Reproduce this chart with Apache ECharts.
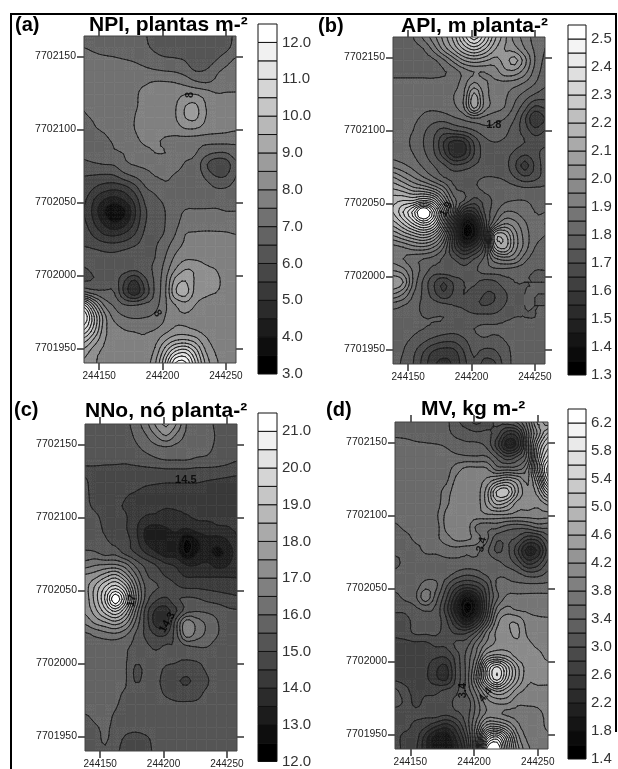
<!DOCTYPE html>
<html><head><meta charset="utf-8"><style>html,body{margin:0;padding:0;background:#fff}#c{width:618px;height:769px}</style>
<script src="https://cdn.jsdelivr.net/npm/echarts@6/dist/echarts.min.js"></script></head><body><div id="c"></div>
<script>
const eastings=[244138,244146,244154,244162,244170,244178,244186,244194,244202,244210,244218,244226,244234,244242,244250,244258];
const northings=[7702164,7702156,7702148,7702140,7702132,7702124,7702116,7702108,7702100,7702092,7702084,7702076,7702068,7702060,7702052,7702044,7702036,7702028,7702020,7702012,7702004,7701996,7701988,7701980,7701972,7701964,7701956,7701948,7701940];
const xTicks=[244150,244200,244250];
const yTicks=[7701950,7702000,7702050,7702100,7702150];
const npiBands=[3,3.5,4,4.5,5,5.5,6,6.5,7,7.5,8,8.5,9,9.5,10,10.5,11,11.5,12,12.5];
const apiBands=[1.3,1.35,1.4,1.45,1.5,1.55,1.6,1.65,1.7,1.75,1.8,1.85,1.9,1.95,2,2.05,2.1,2.15,2.2,2.25,2.3,2.35,2.4,2.45,2.5,2.55];
const nnoBands=[12,12.5,13,13.5,14,14.5,15,15.5,16,16.5,17,17.5,18,18.5,19,19.5,20,20.5,21,21.5];
const mvBands=[1.4,1.6,1.8,2,2.2,2.4,2.6,2.8,3,3.2,3.4,3.6,3.8,4,4.2,4.4,4.6,4.8,5,5.2,5.4,5.6,5.8,6,6.2,6.4];
const npiTicks=[3,4,5,6,7,8,9,10,11,12];
const apiTicks=[1.3,1.4,1.5,1.6,1.7,1.8,1.9,2,2.1,2.2,2.3,2.4,2.5];
const nnoTicks=[12,13,14,15,16,17,18,19,20,21];
const mvTicks=[1.4,1.8,2.2,2.6,3,3.4,3.8,4.2,4.6,5,5.4,5.8,6.2];
const npiValues=[
[6.7,6.7,6.7,6.7,6.7,6.7,6.55,6.3,6.2,6.2,6.2,6.2,6.2,6.2,6.3,6.6],
[7.0,6.9,6.8,6.8,6.75,6.7,6.6,6.4,6.2,6.2,6.1,6.1,6.1,6.1,6.35,6.7],
[7.2,7.15,7.1,7.05,7.0,6.95,6.85,6.7,6.6,6.55,6.45,6.1,6.1,6.45,6.8,7.05],
[7.3,7.3,7.25,7.2,7.2,7.15,7.1,7.05,7.0,6.95,6.8,6.5,6.55,6.9,7.1,7.2],
[7.35,7.35,7.35,7.35,7.35,7.4,7.45,7.55,7.55,7.5,7.35,7.1,7.0,7.1,7.25,7.3],
[7.3,7.35,7.35,7.35,7.4,7.45,7.6,7.7,7.75,7.8,8.0,8.0,7.8,7.55,7.55,7.55],
[7.05,7.25,7.3,7.35,7.4,7.45,7.65,7.8,7.8,7.95,8.5,8.6,8.0,7.8,7.7,7.7],
[6.95,7.05,7.2,7.3,7.35,7.5,7.7,7.8,7.8,7.95,8.5,8.6,8.0,7.8,7.7,7.7],
[6.85,6.97,7.03,7.1,7.25,7.5,7.7,7.75,7.75,7.75,7.95,7.95,7.75,7.65,7.6,7.55],
[6.8,6.9,6.95,7.03,7.1,7.35,7.6,7.6,7.4,7.3,7.25,7.2,7.15,7.15,7.15,7.1],
[6.6,6.7,6.8,6.95,7.02,7.15,7.3,7.5,7.5,7.2,7.1,7.03,6.7,6.5,6.5,6.8],
[6.4,6.45,6.5,6.55,6.9,7.03,7.1,7.15,7.1,7.1,6.97,6.85,6.1,5.6,5.7,6.4],
[6.0,5.95,5.9,5.95,6.3,6.55,6.8,7.0,7.05,6.97,6.9,6.85,6.4,6.0,6.0,6.5],
[5.85,5.5,5.25,5.15,5.3,5.8,6.45,6.65,6.9,6.9,6.9,6.9,6.75,6.5,6.5,6.7],
[5.6,5.0,4.5,4.3,4.6,5.2,6.1,6.4,6.6,6.85,6.9,6.85,6.85,6.85,6.85,6.9],
[5.5,4.8,4.0,3.5,3.9,4.9,5.9,6.3,6.5,6.85,7.02,7.05,7.05,7.05,7.0,7.0],
[5.6,5.0,4.4,4.0,4.3,5.1,5.95,6.3,6.5,6.85,7.2,7.3,7.35,7.35,7.3,7.3],
[5.8,5.4,5.0,4.9,5.1,5.5,6.1,6.35,6.55,7.0,7.5,7.55,7.55,7.55,7.55,7.5],
[6.0,5.9,5.75,5.7,5.8,6.0,6.25,6.45,6.8,7.3,7.6,7.65,7.65,7.7,7.7,7.65],
[6.2,6.25,6.2,6.2,6.35,6.5,6.4,6.5,7.0,7.6,7.9,7.9,7.85,7.85,7.8,7.75],
[5.95,6.1,6.3,6.3,6.2,6.1,6.35,6.6,7.2,8.0,8.5,8.4,8.1,8.0,7.9,7.85],
[6.0,6.05,6.3,6.3,5.5,4.9,5.8,6.6,7.35,8.7,9.0,8.4,8.2,8.05,7.95,7.9],
[7.2,6.8,6.6,6.5,5.4,4.7,5.6,6.6,7.4,8.9,9.2,8.3,8.1,8.0,7.9,7.9],
[10.5,8.8,7.4,6.9,6.5,6.45,6.6,6.8,7.4,8.0,8.3,8.0,7.8,7.7,7.7,7.75],
[12,10.0,8.2,7.3,7.0,6.9,6.95,7.1,7.5,7.9,7.95,7.85,7.7,7.65,7.7,7.7],
[11.2,9.8,8.2,7.7,7.45,7.4,7.4,7.45,7.7,8.05,8.05,7.9,7.75,7.7,7.7,7.7],
[9.8,8.9,8.05,7.8,7.7,7.6,7.55,7.8,8.4,8.9,9.0,8.7,8.1,7.8,7.75,7.7],
[8.8,8.2,7.9,7.8,7.7,7.6,7.65,8.1,9.3,10.5,10.8,9.8,8.5,7.95,7.8,7.7],
[8.4,8.05,7.9,7.8,7.7,7.6,7.7,8.4,10,12,12.1,10.5,8.9,8.1,7.8,7.7]];
const apiValues=[
[1.77,1.78,1.8,1.86,1.93,2.02,2.12,2.27,2.38,2.27,2.12,2.02,1.93,1.88,1.83,1.8],
[1.77,1.78,1.78,1.8,1.87,1.97,2.06,2.16,2.22,2.16,2.06,2.0,1.97,1.9,1.84,1.8],
[1.78,1.78,1.78,1.78,1.79,1.84,1.92,2.0,2.03,2.01,1.98,2.02,2.07,1.97,1.85,1.79],
[1.79,1.79,1.79,1.79,1.79,1.795,1.82,1.87,1.9,1.9,1.92,1.98,1.98,1.92,1.83,1.78],
[1.81,1.81,1.81,1.81,1.81,1.82,1.83,1.88,1.96,1.91,1.89,1.88,1.87,1.84,1.8,1.76],
[1.82,1.82,1.82,1.82,1.82,1.83,1.85,1.9,2.07,1.93,1.88,1.86,1.82,1.78,1.74,1.72],
[1.82,1.82,1.82,1.81,1.81,1.82,1.84,1.9,2.07,1.93,1.88,1.85,1.79,1.72,1.64,1.66],
[1.82,1.82,1.81,1.79,1.77,1.77,1.79,1.81,1.84,1.83,1.81,1.8,1.75,1.66,1.55,1.6],
[1.81,1.81,1.8,1.76,1.72,1.68,1.7,1.72,1.75,1.78,1.79,1.77,1.72,1.68,1.62,1.65],
[1.8,1.81,1.79,1.75,1.7,1.6,1.53,1.55,1.66,1.73,1.75,1.74,1.72,1.7,1.68,1.68],
[1.83,1.82,1.8,1.76,1.71,1.62,1.52,1.54,1.65,1.72,1.73,1.72,1.69,1.66,1.68,1.72],
[1.88,1.86,1.83,1.79,1.75,1.71,1.66,1.67,1.7,1.72,1.73,1.72,1.66,1.58,1.66,1.72],
[2.0,1.95,1.9,1.85,1.8,1.75,1.73,1.73,1.74,1.75,1.75,1.74,1.7,1.66,1.68,1.72],
[2.1,2.07,2.02,2.0,1.95,1.87,1.76,1.74,1.74,1.76,1.77,1.78,1.77,1.76,1.76,1.76],
[2.18,2.2,2.2,2.25,2.2,2.0,1.82,1.75,1.68,1.72,1.76,1.79,1.8,1.8,1.79,1.78],
[2.2,2.3,2.42,2.6,2.42,2.15,1.85,1.55,1.55,1.7,1.78,1.85,1.85,1.82,1.8,1.8],
[2.12,2.2,2.3,2.38,2.3,2.05,1.7,1.37,1.4,1.65,1.85,1.95,1.92,1.86,1.81,1.8],
[2.0,2.05,2.1,2.14,2.08,1.9,1.62,1.35,1.38,1.62,2.1,2.12,1.98,1.88,1.82,1.8],
[1.88,1.9,1.93,1.94,1.9,1.8,1.62,1.5,1.55,1.7,2.05,2.12,1.98,1.88,1.8,1.78],
[1.88,1.85,1.82,1.8,1.78,1.74,1.7,1.65,1.7,1.76,1.88,1.92,1.9,1.82,1.77,1.76],
[1.95,1.92,1.84,1.78,1.73,1.74,1.74,1.72,1.74,1.77,1.78,1.78,1.77,1.76,1.75,1.75],
[2.05,2.0,1.84,1.74,1.66,1.6,1.66,1.7,1.71,1.68,1.69,1.73,1.75,1.75,1.75,1.75],
[1.95,1.9,1.8,1.74,1.67,1.61,1.66,1.7,1.68,1.65,1.65,1.69,1.73,1.75,1.75,1.75],
[1.82,1.8,1.77,1.74,1.73,1.72,1.7,1.69,1.66,1.65,1.66,1.7,1.73,1.75,1.75,1.75],
[1.78,1.77,1.76,1.75,1.75,1.75,1.74,1.73,1.72,1.72,1.72,1.74,1.75,1.75,1.75,1.76],
[1.77,1.77,1.76,1.75,1.74,1.73,1.72,1.73,1.75,1.76,1.76,1.76,1.76,1.76,1.76,1.76],
[1.77,1.76,1.74,1.71,1.68,1.66,1.66,1.69,1.73,1.74,1.73,1.75,1.76,1.76,1.76,1.76],
[1.77,1.75,1.71,1.65,1.59,1.57,1.58,1.65,1.71,1.68,1.69,1.73,1.76,1.76,1.76,1.76],
[1.77,1.74,1.7,1.63,1.56,1.54,1.56,1.63,1.69,1.63,1.64,1.72,1.76,1.76,1.76,1.76]];
const nnoValues=[
[15.2,15.2,15.2,15.2,15.35,15.75,16.3,17.1,17.6,17.0,16.0,15.8,15.7,15.4,15.3,15.2],
[15.2,15.2,15.2,15.2,15.25,15.6,15.95,16.5,17.0,16.4,15.9,15.75,15.7,15.45,15.3,15.2],
[15.15,15.15,15.15,15.15,15.2,15.4,15.65,15.85,15.95,15.85,15.75,15.7,15.65,15.4,15.3,15.2],
[15.1,15.1,15.1,15.1,15.1,15.2,15.3,15.45,15.55,15.55,15.55,15.45,15.4,15.25,15.15,15.05],
[14.95,14.93,14.9,14.88,14.85,14.85,14.87,14.87,14.9,14.9,14.9,14.85,14.85,14.85,14.8,14.7],
[15.05,14.85,14.8,14.75,14.7,14.68,14.6,14.55,14.52,14.52,14.52,14.52,14.45,14.38,14.3,14.25],
[15.05,14.9,14.8,14.75,14.55,14.45,14.3,14.25,14.2,14.2,14.2,14.2,14.15,14.1,14.1,14.1],
[15.05,14.95,14.85,14.6,14.45,14.25,14.15,14.1,14.05,14.05,14.05,14.05,14.05,14.05,14.05,14.05],
[15.1,15.05,14.9,14.65,14.55,14.2,13.95,13.9,13.8,13.9,13.95,14.05,14.05,14.05,14.05,14.05],
[15.2,15.1,14.95,14.75,14.55,14.1,13.45,13.3,13.45,13.6,13.45,13.7,13.8,13.9,13.95,14.05],
[15.2,15.1,15.05,14.85,14.7,14.2,13.45,13.1,13.1,13.25,12.4,12.9,13.3,13.2,13.45,13.95],
[15.6,15.55,15.25,15.3,14.8,14.45,13.95,13.55,13.2,13.2,12.4,12.95,13.1,12.9,13.1,13.75],
[16.2,16.4,16.45,16.45,16.1,15.3,14.8,14.45,14.05,13.9,13.45,13.45,13.6,13.3,13.4,13.9],
[17.1,17.3,17.8,18.2,17.3,16.1,15.1,14.8,14.45,14.2,13.95,13.95,13.95,13.95,13.95,13.95],
[17.3,18.1,19.1,19.8,18.8,16.8,15.4,15.05,14.9,14.6,14.45,14.45,14.4,14.35,14.3,14.3],
[17.2,18.2,19.6,21.5,19.7,17.1,15.3,14.6,14.4,14.9,15.1,15.05,14.9,14.8,14.7,14.6],
[17.1,17.8,18.8,19.6,18.45,16.45,14.8,13.9,13.8,14.45,15.25,15.45,15.4,15.3,15.1,15.05],
[16.6,17.1,17.45,17.8,17.2,15.9,14.8,13.8,13.8,15.3,16.8,16.3,15.9,15.55,15.2,15.1],
[15.9,16.1,16.3,16.4,16.1,15.45,14.9,14.45,14.45,15.3,16.8,16.3,15.9,15.55,15.25,15.1],
[15.85,15.8,15.75,15.7,15.6,15.35,15.1,14.9,15.05,15.05,15.45,15.55,15.55,15.3,15.2,15.15],
[15.85,15.8,15.75,15.6,15.55,15.2,15.15,15.1,15.1,15.05,15.05,15.1,15.15,15.15,15.15,15.15],
[15.85,15.85,15.75,15.6,15.55,14.9,15.1,15.1,14.95,14.9,14.8,14.85,15.05,15.15,15.2,15.2],
[15.95,15.85,15.7,15.6,15.55,14.95,15.15,15.05,14.9,14.6,14.4,14.7,14.95,15.15,15.2,15.2],
[15.85,15.8,15.7,15.6,15.45,15.3,15.2,15.1,14.95,14.85,14.8,14.9,15.05,15.15,15.2,15.2],
[15.8,15.75,15.65,15.55,15.35,15.25,15.2,15.15,15.1,15.05,15.05,15.05,15.1,15.15,15.2,15.2],
[15.45,15.6,15.6,15.45,15.3,15.25,15.2,15.2,15.2,15.2,15.2,15.2,15.2,15.2,15.2,15.2],
[15.3,15.45,15.55,15.4,15.2,15.15,15.2,15.2,15.2,15.2,15.2,15.2,15.2,15.2,15.2,15.2],
[15.2,15.35,15.55,15.25,14.9,14.75,14.9,15.15,15.2,15.2,15.2,15.2,15.2,15.2,15.2,15.2],
[15.2,15.3,15.45,15.1,14.85,14.7,14.85,15.1,15.2,15.2,15.2,15.2,15.2,15.2,15.2,15.2]];
const mvValues=[
[3.25,3.3,3.3,3.3,3.25,3.25,3.05,2.9,2.75,2.9,3.05,3.1,3.25,3.7,4.45,4.25],
[3.35,3.33,3.3,3.3,3.25,3.25,3.15,3.1,3.05,3.05,2.9,2.45,2.55,3.5,4.25,4.85],
[3.5,3.5,3.45,3.43,3.42,3.38,3.3,3.25,3.25,3.15,2.7,2.1,2.3,3.5,4.65,5.3],
[3.5,3.5,3.5,3.5,3.5,3.47,3.45,3.43,3.42,3.42,3.15,2.85,3.05,3.5,4.85,5.65],
[3.5,3.5,3.5,3.5,3.5,3.5,3.7,3.85,3.85,3.82,3.5,3.5,3.5,3.85,5.05,6.1],
[3.5,3.5,3.5,3.5,3.5,3.55,3.85,3.9,3.9,4.05,4.3,4.45,4.25,3.95,4.65,5.85],
[3.5,3.5,3.5,3.5,3.5,3.7,3.9,3.9,3.9,4.3,5.05,5.1,4.45,4.05,4.3,5.05],
[3.5,3.5,3.5,3.5,3.5,3.75,3.9,3.9,3.9,4.25,4.65,4.5,4.1,4.05,4.05,4.25],
[3.5,3.5,3.5,3.5,3.55,3.85,3.9,3.9,3.9,3.95,3.95,3.95,3.9,3.9,3.9,3.9],
[3.35,3.45,3.5,3.5,3.5,3.85,3.9,3.9,3.55,3.45,3.45,3.3,3.25,3.3,3.45,3.45],
[3.3,3.3,3.45,3.45,3.55,3.7,3.85,3.85,3.7,3.45,3.05,3.05,2.95,2.65,2.7,3.1],
[3.25,3.25,3.3,3.45,3.45,3.5,3.5,3.45,3.45,3.25,2.95,3.05,2.65,2.1,2.25,2.9],
[3.15,3.25,3.25,3.25,3.3,3.35,3.35,3.35,3.35,3.35,3.25,3.1,2.9,2.5,2.65,3.05],
[3.25,3.25,3.25,3.3,3.3,3.3,3.15,3.05,3.1,3.25,3.35,3.35,3.25,3.1,3.1,3.25],
[3.25,3.25,3.3,3.5,3.45,3.05,2.7,2.55,2.65,2.95,3.45,3.45,3.45,3.45,3.45,3.45],
[3.15,3.25,3.35,3.75,3.3,2.85,2.25,1.75,2.05,2.85,3.35,3.65,3.65,3.65,3.65,3.65],
[3.05,3.05,3.15,3.25,3.15,2.7,2.05,1.5,1.85,2.85,3.65,3.85,3.75,3.75,3.7,3.65],
[2.9,2.95,3.05,3.1,3.1,2.85,2.35,1.9,2.3,3.1,3.9,4.15,4.15,3.9,3.85,3.85],
[2.85,2.9,3.05,3.05,3.05,2.9,2.75,2.75,3.05,3.65,4.05,4.15,4.25,3.95,3.85,3.85],
[2.75,2.75,2.75,2.75,2.85,2.85,3.05,3.1,3.5,3.85,4.05,4.1,4.15,4.05,3.95,3.9],
[2.75,2.75,2.75,2.7,2.65,2.65,2.9,3.25,3.65,4.3,4.45,4.35,4.1,4.05,4.05,3.95],
[2.75,2.75,2.75,2.65,2.45,2.35,2.85,3.25,3.9,5.1,5.65,5.1,4.45,4.1,4.05,4.05],
[2.75,2.75,2.75,2.65,2.45,2.35,2.85,3.25,4.05,5.1,5.7,5.05,4.45,4.05,4.05,4.05],
[3.05,2.85,2.75,2.75,2.75,2.85,2.95,3.25,3.7,4.3,4.65,4.45,4.1,3.95,3.95,3.95],
[3.1,2.95,2.75,2.85,2.85,2.9,3.05,3.05,3.5,3.9,4.05,4.05,3.85,3.85,3.85,3.9],
[2.85,2.85,2.85,2.85,2.9,2.85,2.95,3.1,3.5,3.85,3.85,3.75,3.75,3.7,3.75,3.85],
[2.85,2.85,2.75,2.65,2.45,2.3,2.55,3.05,3.7,4.45,4.5,4.25,3.85,3.7,3.7,3.85],
[2.85,2.75,2.7,2.3,1.9,1.85,2.25,2.85,3.9,5.45,5.85,5.05,4.1,3.75,3.7,3.75],
[2.85,2.75,2.65,2.25,1.9,1.9,2.1,2.7,4.05,6.25,6.5,5.3,4.3,3.85,3.7,3.7]];
const contourLabels=[
 [[244221.5,7702123.6,'8',90],[244196,7701974,'8',-60]],
 [[244217.6,7702104,'1.8',0],[244180,7702046,'1.9',60]],
 [[244217.6,7702126,'14.5',0],[244175,7702043,'17',80],[244203,7702028,'14.3',60]],
 [[244206,7702080,'3.4',75],[244191,7701980,'3.4',90],[244209,7701977,'4.4',50]]];
const panels=[
 {tag:'(a)',title:'NPI, plantas m-²',vals:npiValues,bands:npiBands,ticks:npiTicks,g:[84,36,152,327],l:[258,24,19,350],tl:[15,15],tt:[89,15]},
 {tag:'(b)',title:'API, m planta-²',vals:apiValues,bands:apiBands,ticks:apiTicks,g:[393,37,152,327],l:[568,25,18,350],tl:[318,16],tt:[401,16]},
 {tag:'(c)',title:'NNo, nó planta-²',vals:nnoValues,bands:nnoBands,ticks:nnoTicks,g:[85,424,152,327],l:[258,413,19,350],tl:[14,400],tt:[85,401]},
 {tag:'(d)',title:'MV, kg m-²',vals:mvValues,bands:mvBands,ticks:mvTicks,g:[395,422,153,327],l:[568,409,18,350],tl:[326,400],tt:[421,399]}];

/* the contour surface between the read grid nodes is drawn with a Catmull-Rom patch, as a contouring package does */
const SUB=3;
function cr(a,b,c,d,t){return 0.5*(2*b+(c-a)*t+(2*a-5*b+4*c-d)*t*t+(3*b-a-3*c+d)*t*t*t);}
function surf(vals,r,c,u,v){
  const R=vals.length-1,C=vals[0].length-1,rowAt=i=>{const q=vals[Math.max(0,Math.min(R,i))];
    return cr(q[Math.max(0,c-1)],q[c],q[Math.min(C,c+1)],q[Math.min(C,c+2)],v);};
  return cr(rowAt(r-1),rowAt(r),rowAt(r+1),rowAt(r+2),u);
}
function mesh(api,vals){
  const p0=api.coord([api.value(0),api.value(1)]),p1=api.coord([api.value(2),api.value(3)]);
  const r=api.value(4),c=api.value(5),nodes=[];
  let lo=1e9,hi=-1e9;
  for(let i=0;i<=SUB;i++){const row=[];for(let j=0;j<=SUB;j++){
    const z=surf(vals,r,c,i/SUB,j/SUB);lo=Math.min(lo,z);hi=Math.max(hi,z);
    row.push([p0[0]+(p1[0]-p0[0])*j/SUB,p0[1]+(p1[1]-p0[1])*i/SUB,z]);}nodes.push(row);}
  const tris=[];
  for(let i=0;i<SUB;i++)for(let j=0;j<SUB;j++){
    const a=nodes[i][j],b=nodes[i][j+1],d=nodes[i+1][j+1],e=nodes[i+1][j];
    if((i+j)%2){tris.push([a,b,d],[a,d,e]);}else{tris.push([a,b,e],[b,d,e]);}
  }
  return {tris,lo,hi,p0,p1};
}
function clipPoly(pts,level,keepAbove){
  const out=[];
  for(let i=0;i<pts.length;i++){
    const a=pts[i],b=pts[(i+1)%pts.length];
    const ia=keepAbove?a[2]>=level:a[2]<=level, ib=keepAbove?b[2]>=level:b[2]<=level;
    if(ia)out.push(a);
    if(ia!==ib){const t=(level-a[2])/(b[2]-a[2]);out.push([a[0]+t*(b[0]-a[0]),a[1]+t*(b[1]-a[1]),level]);}
  }
  return out;
}
function grayOf(i,n){const g=Math.round(i/(n-1)*255);return 'rgb('+g+','+g+','+g+')';}
function fillRenderer(bands,vals){
  const n=bands.length-1;
  const bandOf=z=>{let b=0;while(b<n-1&&z>=bands[b+1])b++;return b;};
  return function(params,api){
    const m=mesh(api,vals),children=[];
    if(bandOf(m.lo)===bandOf(m.hi)){
      const col=grayOf(bandOf(m.lo),n);
      return {type:'rect',shape:{x:Math.min(m.p0[0],m.p1[0]),y:Math.min(m.p0[1],m.p1[1]),width:Math.abs(m.p1[0]-m.p0[0]),height:Math.abs(m.p1[1]-m.p0[1])},style:{fill:col,stroke:col,lineWidth:0.6}};
    }
    for(const tri of m.tris){
      const lo=Math.min(tri[0][2],tri[1][2],tri[2][2]),hi=Math.max(tri[0][2],tri[1][2],tri[2][2]);
      for(let b=bandOf(lo);b<=bandOf(hi);b++){
        const l=b===0?-1e9:bands[b],h=b===n-1?1e9:bands[b+1];
        let poly=clipPoly(tri,l,true);
        if(poly.length>2)poly=clipPoly(poly,h,false);
        if(poly.length<3)continue;
        const col=grayOf(b,n);
        children.push({type:'polygon',shape:{points:poly.map(p=>[p[0],p[1]])},style:{fill:col,stroke:col,lineWidth:0.6}});
      }
    }
    return {type:'group',children};
  };
}
function lineRenderer(bands,vals){
  return function(params,api){
    const m=mesh(api,vals),children=[];
    for(let k=1;k<bands.length-1;k++){
      const L=bands[k];
      if(L<m.lo||L>m.hi)continue;
      for(const tri of m.tris){
        const seg=[];
        for(let i=0;i<3;i++){
          const a=tri[i],b=tri[(i+1)%3];
          if((a[2]<L)!==(b[2]<L)){const t=(L-a[2])/(b[2]-a[2]);seg.push([a[0]+t*(b[0]-a[0]),a[1]+t*(b[1]-a[1])]);}
        }
        if(seg.length===2)children.push({type:'line',shape:{x1:seg[0][0],y1:seg[0][1],x2:seg[1][0],y2:seg[1][1]},style:{stroke:'#1c1c1c',lineWidth:1,lineCap:'round'}});
      }
    }
    return {type:'group',children};
  };
}
function legendRenderer(n){
  return function(params,api){
    const a=api.coord([0,api.value(0)]),b=api.coord([1,api.value(1)]);
    return {type:'rect',shape:{x:a[0],y:b[1],width:b[0]-a[0],height:a[1]-b[1]},style:{fill:grayOf(params.dataIndex,n),stroke:'#111',lineWidth:1}};
  };
}
const font='"Liberation Sans",Arial,sans-serif';
const option={animation:false,backgroundColor:'#fff',grid:[],xAxis:[],yAxis:[],series:[],title:[],
 graphic:[{type:'polyline',silent:true,z:50,shape:{points:[[11,769],[11,14],[616,14],[616,732]]},style:{stroke:'#000',fill:null,lineWidth:2}}]};
const xMin=eastings[0],xMax=eastings[eastings.length-1],yMax=northings[0],yMin=northings[northings.length-1];
panels.forEach((p,i)=>{
  const gi=option.grid.length;
  option.grid.push({left:p.g[0],top:p.g[1],width:p.g[2],height:p.g[3],show:true,borderColor:'#444',borderWidth:1,backgroundColor:'transparent',z:5});
  option.grid.push({left:p.l[0],top:p.l[1],width:p.l[2],height:p.l[3],show:false});
  const tickStyle={show:true,length:7,lineStyle:{color:'#333',width:1.5}};
  const xi=option.xAxis.length,yi=option.yAxis.length;
  const hideLine={show:false};
  option.xAxis.push({type:'value',gridIndex:gi,min:xMin,max:xMax,position:'bottom',splitLine:hideLine,axisLine:hideLine,axisTick:{...tickStyle,customValues:xTicks},
    axisLabel:{customValues:xTicks,color:'#222',fontSize:10,fontFamily:font,margin:8,formatter:v=>String(v)}});
  option.xAxis.push({type:'value',gridIndex:gi,min:xMin,max:xMax,position:'top',splitLine:hideLine,axisLine:hideLine,axisTick:{...tickStyle,customValues:xTicks},axisLabel:{show:false}});
  option.yAxis.push({type:'value',gridIndex:gi,min:yMin,max:yMax,position:'left',splitLine:hideLine,axisLine:hideLine,axisTick:{...tickStyle,customValues:yTicks},
    axisLabel:{customValues:yTicks,color:'#222',fontSize:10.5,fontFamily:font,margin:8,formatter:v=>String(v)}});
  option.yAxis.push({type:'value',gridIndex:gi,min:yMin,max:yMax,position:'right',splitLine:hideLine,axisLine:hideLine,axisTick:{...tickStyle,customValues:yTicks},axisLabel:{show:false}});
  option.xAxis.push({type:'value',gridIndex:gi+1,min:0,max:1,show:false});
  const n=p.bands.length-1;
  option.yAxis.push({type:'value',gridIndex:gi+1,min:p.bands[0],max:p.bands[n],position:'right',splitLine:hideLine,axisLine:hideLine,axisTick:{show:false},
    axisLabel:{customValues:p.ticks,color:'#333',fontSize:15,fontFamily:font,margin:5,formatter:v=>v.toFixed(1)}});
  const cells=[];
  for(let r=0;r<northings.length-1;r++)for(let c=0;c<eastings.length-1;c++)
    cells.push([eastings[c],northings[r],eastings[c+1],northings[r+1],r,c]);
  const enc={x:[0,2],y:[1,3]};
  option.series.push({type:'custom',xAxisIndex:xi,yAxisIndex:yi,data:cells,encode:enc,renderItem:fillRenderer(p.bands,p.vals),silent:true,progressive:0,z:2,clip:true});
  option.series.push({type:'custom',xAxisIndex:xi,yAxisIndex:yi,data:cells,encode:enc,renderItem:lineRenderer(p.bands,p.vals),silent:true,progressive:0,z:3,clip:true});
  option.series.push({type:'scatter',xAxisIndex:xi,yAxisIndex:yi,symbolSize:0,silent:true,z:6,
    data:contourLabels[i].map(d=>({value:[d[0],d[1]],label:{show:true,position:'inside',formatter:d[2],rotate:d[3],color:'#000',fontSize:11,fontWeight:'bold',fontFamily:font}}))});
  const legendData=[];
  for(let b=0;b<n;b++)legendData.push([p.bands[b],p.bands[b+1]]);
  option.series.push({type:'custom',xAxisIndex:xi+2,yAxisIndex:yi+2,data:legendData,encode:{y:[0,1]},renderItem:legendRenderer(n),silent:true,progressive:0,z:3});
  option.title.push({text:p.tag,left:p.tl[0],top:p.tl[1],padding:0,textStyle:{fontFamily:font,fontSize:20,fontWeight:'bold',color:'#000'}});
  option.title.push({text:p.title,left:p.tt[0],top:p.tt[1],padding:0,textStyle:{fontFamily:font,fontSize:21,fontWeight:'bold',color:'#000'}});
});
const chart=echarts.init(document.getElementById('c'),null,{renderer:'canvas'});
chart.setOption(option);
</script></body></html>
